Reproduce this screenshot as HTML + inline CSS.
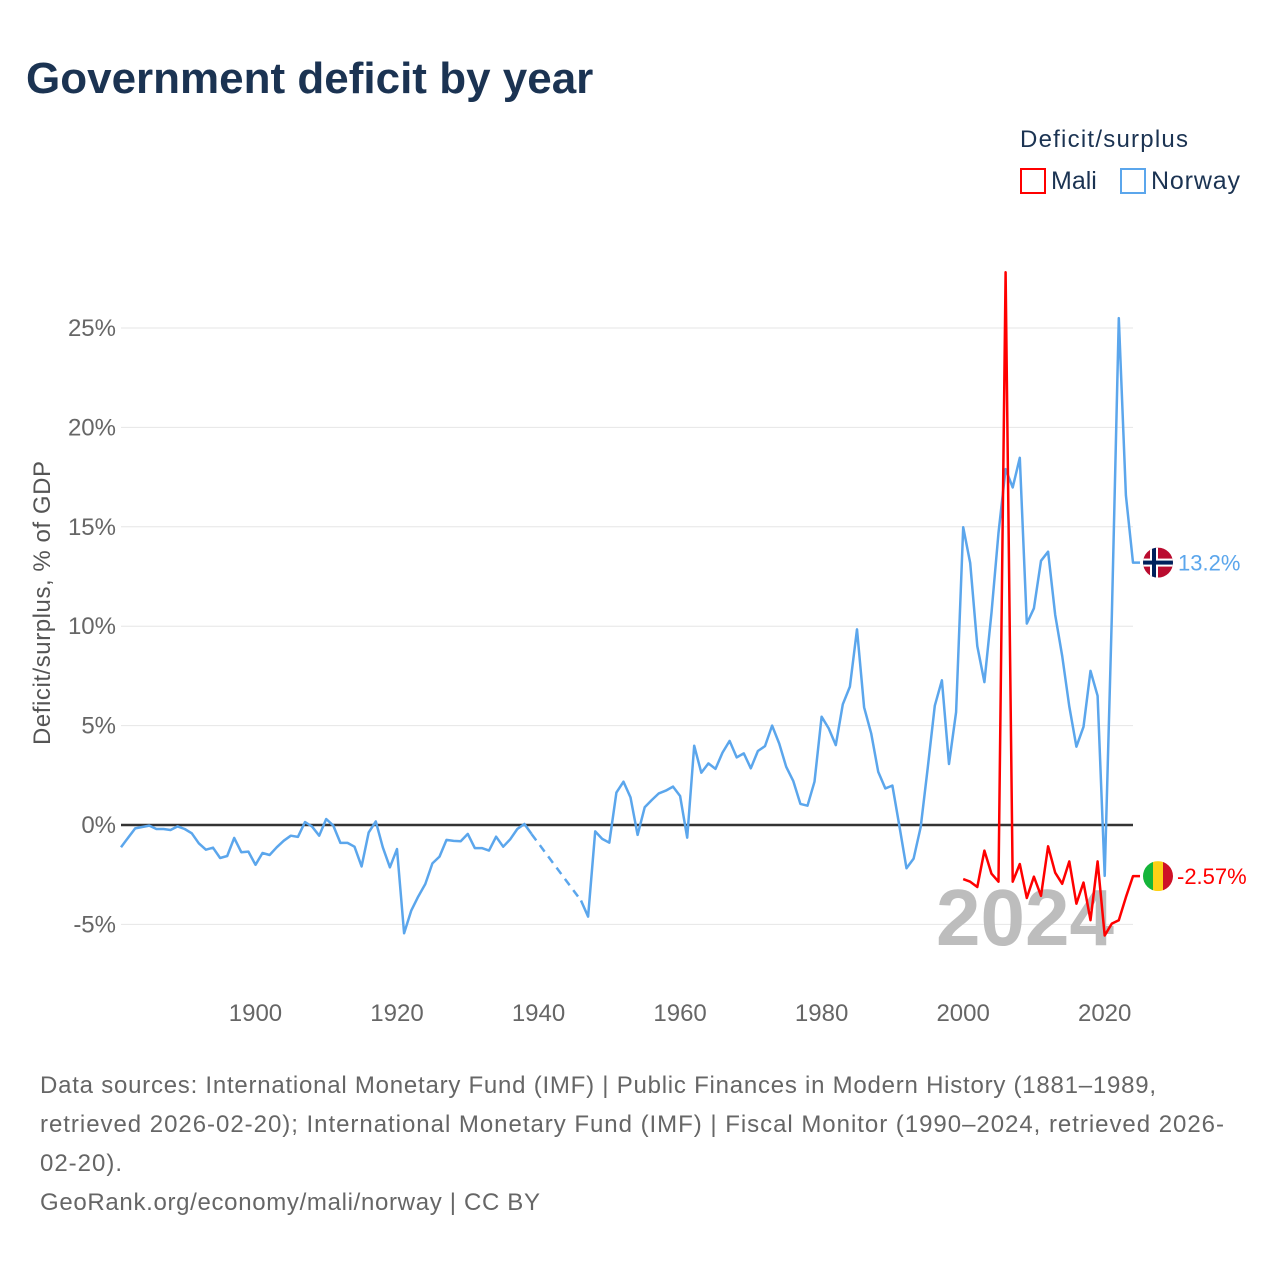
<!DOCTYPE html>
<html><head><meta charset="utf-8">
<style>
body{margin:0;background:#fff;font-family:"Liberation Sans",sans-serif;}
#wrap{position:relative;width:1280px;height:1280px;overflow:hidden;}
</style></head>
<body>
<div id="wrap">
<svg id="chart" width="1280" height="1280" xmlns="http://www.w3.org/2000/svg">
  <text x="26" y="93" font-size="44" font-weight="bold" fill="#1b3352">Government deficit by year</text>
  <text x="1020" y="147" font-size="24" fill="#1b3352" textLength="168">Deficit/surplus</text>
  <g>
    <rect x="1021" y="169" width="24" height="24" fill="none" stroke="#ff0000" stroke-width="2"/>
    <text x="1051" y="189" font-size="25" fill="#1b3352">Mali</text>
  </g>
  <g>
    <rect x="1121" y="169" width="24" height="24" fill="none" stroke="#5ba6ec" stroke-width="2"/>
    <text x="1151" y="189" font-size="25" fill="#1b3352" textLength="89">Norway</text>
  </g>
  <g id="grid"></g>
  <g id="yticks"></g>
  <g id="xticks"></g>
  <text transform="translate(50,603) rotate(-90)" text-anchor="middle" font-size="24" fill="#555" textLength="284">Deficit/surplus, % of GDP</text>
  <text x="1025" y="945" text-anchor="middle" font-size="80" font-weight="bold" fill="#bdbdbd">2024</text>
  <g id="series"></g>
  <g id="endlabels"></g>
  <g font-size="24" fill="#666">
    <text x="40" y="1093" textLength="1116">Data sources: International Monetary Fund (IMF) | Public Finances in Modern History (1881–1989,</text>
    <text x="40" y="1132" textLength="1184">retrieved 2026-02-20); International Monetary Fund (IMF) | Fiscal Monitor (1990–2024, retrieved 2026-</text>
    <text x="40" y="1171" textLength="82">02-20).</text>
    <text x="40" y="1210" textLength="500">GeoRank.org/economy/mali/norway | CC BY</text>
  </g>
</svg>
</div>
<script>
const yTicks=[-5,0,5,10,15,20,25];
const xTicks=[1900,1920,1940,1960,1980,2000,2020];
const norwayStart=1881;
const norwayValues=[-1.12,-0.64,-0.17,-0.1,-0.03,-0.2,-0.2,-0.25,-0.07,-0.2,-0.42,-0.92,-1.24,-1.14,-1.66,-1.56,-0.65,-1.37,-1.34,-2.0,
-1.41,-1.51,-1.12,-0.79,-0.54,-0.6,0.15,-0.08,-0.54,0.3,-0.03,-0.9,-0.9,-1.09,-2.08,-0.37,0.18,-1.12,-2.13,-1.21,
-5.45,-4.31,-3.6,-2.97,-1.93,-1.59,-0.75,-0.8,-0.82,-0.45,-1.16,-1.16,-1.29,-0.59,-1.09,-0.72,-0.2,0.05,-0.45,
null,null,null,null,null,null,-3.8,-4.61,-0.32,-0.7,-0.89,
1.63,2.18,1.39,-0.5,0.89,1.26,1.59,1.73,1.93,1.46,-0.64,3.99,2.63,3.1,2.82,3.64,4.23,3.4,3.6,2.85,
3.72,3.97,5.0,4.1,2.93,2.21,1.06,0.97,2.18,5.45,4.86,4.02,6.07,6.96,9.84,5.92,4.61,2.68,1.84,1.98,
-0.08,-2.18,-1.69,-0.1,2.9,6.0,7.28,3.07,5.68,14.98,13.18,9.0,7.19,10.68,14.7,17.9,16.98,18.47,10.13,10.9,
13.29,13.75,10.57,8.5,5.96,3.94,4.94,7.75,6.5,-2.56,10.46,25.5,16.58,13.2];
const maliStart=2000;
const maliValues=[-2.72,-2.85,-3.12,-1.29,-2.45,-2.85,27.8,-2.85,-1.96,-3.67,-2.6,-3.56,-1.07,-2.4,-2.96,-1.83,-3.96,-2.89,-4.79,-1.83,-5.56,-4.96,-4.79,-3.63,-2.57];
const endLabels=["13.2%","-2.57%"];

const NS="http://www.w3.org/2000/svg";
const X0=121,X1=1133;
const xs=y=>X0+(y-1881)*(X1-X0)/(2024-1881);
const ys=v=>825-v*19.88;
function mk(tag,attrs,parent){const e=document.createElementNS(NS,tag);for(const k in attrs)e.setAttribute(k,attrs[k]);parent.appendChild(e);return e;}
const grid=document.getElementById('grid'),yt=document.getElementById('yticks'),xt=document.getElementById('xticks');
yTicks.forEach(t=>{
  if(t!==0){const l=mk('line',{x1:X0,x2:X1,y1:ys(t),y2:ys(t),stroke:'#e6e6e6','stroke-width':1},grid);
  
  }
  const tx=mk('text',{x:116,y:ys(t)+8,'text-anchor':'end','font-size':24,fill:'#666'},yt);
  tx.textContent=t+'%';
  
  
});
xTicks.forEach(t=>{
  const tx=mk('text',{x:xs(t),y:1021,'text-anchor':'middle','font-size':24,fill:'#666'},xt);
  tx.textContent=t;
  
  
});
const zl=mk('line',{x1:X0,x2:X1,y1:ys(0),y2:ys(0),stroke:'#333','stroke-width':2.5},grid);


const ser=document.getElementById('series');
function drawSeries(start,vals,color,name){
  const g=mk('g',{},ser);
  
  
  let segs=[],cur=[];
  vals.forEach((v,i)=>{if(v===null){if(cur.length)segs.push(cur);cur=[];}else cur.push([xs(start+i),ys(v)]);});
  if(cur.length)segs.push(cur);
  const last=segs[segs.length-1];
  last.push([X1+7,last[last.length-1][1]]);
  segs.forEach((s,k)=>{
    const p=mk('path',{d:'M'+s.map(q=>q[0].toFixed(1)+','+q[1].toFixed(1)).join('L'),fill:'none',stroke:color,'stroke-width':2.5,'stroke-linejoin':'round'},g);
    
    
    if(k<segs.length-1){const a=s[s.length-1],b=segs[k+1][0];
      const d=mk('line',{x1:a[0],y1:a[1],x2:b[0],y2:b[1],stroke:color,'stroke-width':2.5,'stroke-dasharray':'8,6'},g);
      
      }
  });
}
drawSeries(norwayStart,norwayValues,'#5ba6ec','norway-series');
drawSeries(maliStart,maliValues,'#ff0000','mali-series');
const el=document.getElementById('endlabels');
const nv=norwayValues[norwayValues.length-1],mv=maliValues[maliValues.length-1];
const nf=mk('g',{},el);


const cy1=ys(nv);
const cp1=mk('clipPath',{id:'c1'},nf);mk('circle',{cx:1158,cy:cy1,r:15},cp1);
const ng=mk('g',{'clip-path':'url(#c1)'},nf);
mk('rect',{x:1143,y:cy1-15,width:30,height:30,fill:'#ba0c2f'},ng);
mk('rect',{x:1143,y:cy1-4,width:30,height:8,fill:'#fff'},ng);
mk('rect',{x:1150,y:cy1-15,width:8,height:30,fill:'#fff'},ng);
mk('rect',{x:1143,y:cy1-2,width:30,height:4,fill:'#00205b'},ng);
mk('rect',{x:1152,y:cy1-15,width:4,height:30,fill:'#00205b'},ng);
const t1=mk('text',{x:1178,y:cy1+8,'font-size':22,fill:'#5ba6ec'},el);
t1.textContent=endLabels[0];


const mf=mk('g',{},el);


const cy2=ys(mv);
const cp=mk('clipPath',{id:'c2'},mf);mk('circle',{cx:1158,cy:cy2,r:15},cp);
const mg=mk('g',{'clip-path':'url(#c2)'},mf);
mk('rect',{x:1143,y:cy2-15,width:10,height:30,fill:'#14b53a'},mg);
mk('rect',{x:1153,y:cy2-15,width:10,height:30,fill:'#fcd116'},mg);
mk('rect',{x:1163,y:cy2-15,width:10,height:30,fill:'#ce1126'},mg);
const t2=mk('text',{x:1177,y:cy2+8,'font-size':22,fill:'#ff0000'},el);
t2.textContent=endLabels[1];


</script>
</body></html>
